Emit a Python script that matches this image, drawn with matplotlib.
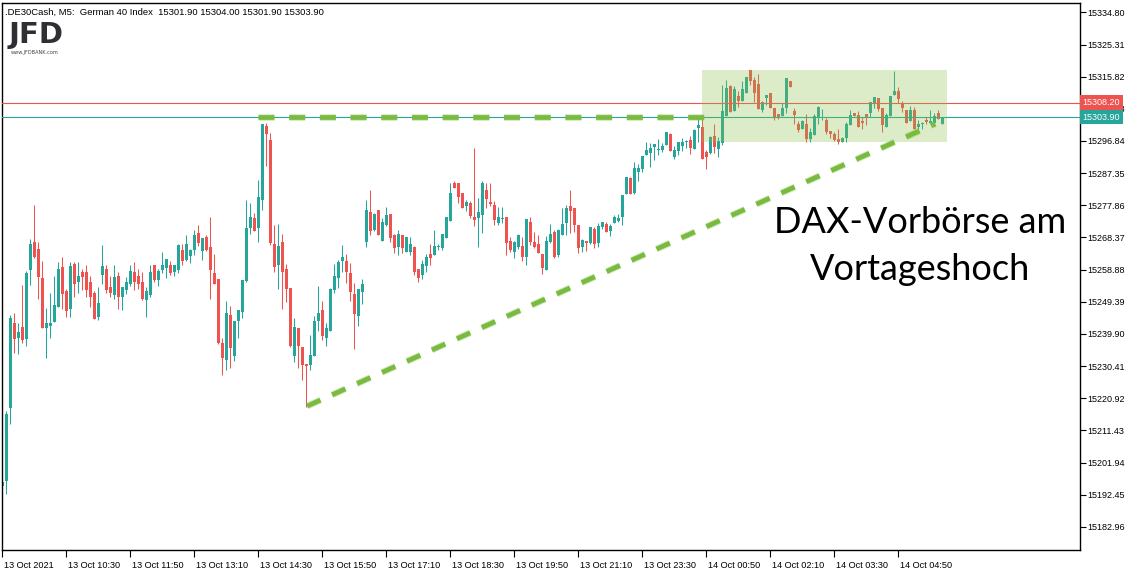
import numpy as np
import matplotlib
matplotlib.use("Agg")
import matplotlib.pyplot as plt
import matplotlib.transforms as mtransforms

opens = [15195.1, 15196.5, 15218.1, 15243.1, 15238.8, 15241.9, 15238.5, 15258.8, 15267.0, 15264.9,
         15256.4, 15241.7, 15242.2, 15243.5, 15247.9, 15259.6, 15252.5, 15247.3, 15260.5, 15255.3,
         15258.1, 15258.1, 15255.2, 15252.0, 15245.0, 15257.4, 15259.0, 15253.7, 15251.5, 15257.0,
         15250.9, 15253.0, 15254.5, 15258.2, 15257.0, 15255.2, 15250.0, 15251.4, 15260.3, 15255.9,
         15258.8, 15259.5, 15260.3, 15258.2, 15258.8, 15264.7, 15261.7, 15262.9, 15264.7, 15269.7,
         15264.4, 15268.5, 15265.6, 15257.9, 15256.1, 15237.2, 15232.2, 15245.5, 15233.4, 15243.7,
         15246.4, 15255.5, 15271.2, 15274.1, 15271.2, 15279.4, 15301.3, 15297.1, 15266.4, 15260.2,
         15267.0, 15259.1, 15253.4, 15233.4, 15241.6, 15236.0, 15231.0, 15230.7, 15233.4, 15243.7,
         15246.9, 15238.7, 15240.7, 15252.8, 15256.4, 15261.4, 15261.4, 15257.9, 15251.7, 15245.2,
         15252.3, 15267.0, 15275.9, 15270.6, 15276.5, 15267.3, 15272.1, 15275.3, 15269.1, 15265.6,
         15269.1, 15264.1, 15264.1, 15265.6, 15259.1, 15257.3, 15259.9, 15263.5, 15263.2, 15265.5,
         15265.3, 15268.2, 15273.2, 15284.4, 15284.4, 15281.5, 15277.7, 15278.5, 15274.4, 15274.1,
         15275.0, 15282.4, 15278.8, 15277.9, 15272.6, 15273.7, 15274.4, 15267.3, 15264.1, 15265.6,
         15265.9, 15262.6, 15272.9, 15267.0, 15266.4, 15263.5, 15258.8, 15267.0, 15270.0, 15263.2,
         15269.1, 15272.6, 15277.7, 15277.1, 15272.1, 15265.6, 15267.3, 15266.7, 15270.9, 15266.7,
         15271.5, 15272.3, 15270.3, 15272.6, 15273.2, 15274.4, 15281.2, 15285.9, 15281.5, 15287.7,
         15288.6, 15292.7, 15293.3, 15295.1, 15294.1, 15294.2, 15295.7, 15298.9, 15292.1, 15293.9,
         15295.4, 15296.4, 15297.1, 15294.5, 15300.7, 15301.0, 15293.6, 15293.3, 15298.3, 15294.5,
         15296.3, 15304.2, 15313.1, 15305.7, 15310.1, 15308.6, 15311.0, 15317.8, 15314.8, 15313.7,
         15306.0, 15309.5, 15311.0, 15306.6, 15304.8, 15304.2, 15306.6, 15314.6, 15305.7, 15301.9,
         15300.4, 15301.9, 15297.4, 15298.6, 15303.9, 15303.5, 15303.0, 15299.8, 15298.9, 15297.4,
         15296.5, 15297.7, 15301.6, 15305.1, 15304.5, 15302.7, 15304.8, 15305.1, 15308.1, 15309.5,
         15306.6, 15301.0, 15304.2, 15310.4, 15311.6, 15308.1, 15306.0, 15302.7, 15306.0, 15301.0,
         15301.8, 15303.0, 15302.2, 15302.2, 15305.1, 15301.9]
highs = [15196.1, 15217.1, 15245.5, 15246.0, 15243.1, 15254.3, 15258.4, 15267.9, 15277.9, 15267.0,
         15261.4, 15247.6, 15252.0, 15257.0, 15261.1, 15262.6, 15253.1, 15261.1, 15261.1, 15261.1,
         15259.0, 15260.2, 15257.0, 15252.5, 15253.7, 15266.1, 15260.2, 15257.0, 15260.2, 15258.1,
         15253.7, 15256.7, 15260.3, 15261.1, 15259.1, 15258.2, 15253.8, 15260.3, 15260.3, 15259.1,
         15264.1, 15262.0, 15261.4, 15260.3, 15266.5, 15266.5, 15269.1, 15265.0, 15270.6, 15272.1,
         15268.2, 15269.1, 15274.4, 15263.5, 15256.1, 15238.7, 15249.6, 15248.2, 15243.7, 15247.0,
         15255.8, 15279.4, 15278.5, 15275.6, 15285.3, 15301.9, 15302.2, 15299.2, 15272.0, 15272.3,
         15269.4, 15260.5, 15253.4, 15244.6, 15241.6, 15236.0, 15231.0, 15239.6, 15245.2, 15254.0,
         15249.6, 15243.1, 15253.4, 15260.5, 15261.7, 15266.1, 15263.5, 15260.8, 15254.9, 15253.1,
         15256.1, 15279.4, 15282.4, 15275.6, 15276.5, 15274.1, 15277.4, 15275.3, 15269.4, 15270.6,
         15269.1, 15268.5, 15268.5, 15265.9, 15259.1, 15261.7, 15263.5, 15266.4, 15270.6, 15266.4,
         15269.4, 15274.4, 15284.4, 15285.0, 15284.4, 15281.5, 15279.4, 15279.1, 15294.8, 15280.0,
         15285.0, 15284.4, 15284.4, 15279.1, 15277.4, 15277.4, 15274.4, 15268.5, 15267.3, 15269.4,
         15268.5, 15273.8, 15274.4, 15270.0, 15269.1, 15263.5, 15268.8, 15272.4, 15270.6, 15270.9,
         15277.1, 15277.9, 15282.4, 15277.1, 15272.1, 15267.9, 15267.3, 15271.5, 15271.5, 15272.6,
         15273.0, 15272.9, 15272.3, 15275.0, 15275.3, 15280.9, 15286.2, 15286.2, 15290.6, 15290.0,
         15292.4, 15296.5, 15296.2, 15296.0, 15297.4, 15296.2, 15299.5, 15299.2, 15295.4, 15296.5,
         15297.7, 15297.1, 15298.3, 15300.4, 15303.6, 15303.6, 15294.2, 15298.3, 15301.9, 15298.0,
         15313.4, 15314.8, 15313.4, 15313.1, 15311.6, 15314.5, 15315.7, 15317.8, 15315.7, 15316.6,
         15308.6, 15310.4, 15311.0, 15306.6, 15304.8, 15308.1, 15315.4, 15314.6, 15306.6, 15302.7,
         15303.0, 15304.8, 15300.7, 15304.8, 15307.2, 15306.3, 15303.6, 15299.8, 15299.5, 15300.4,
         15298.0, 15302.4, 15306.0, 15305.1, 15305.7, 15303.9, 15304.8, 15308.4, 15309.8, 15309.5,
         15306.6, 15305.1, 15310.1, 15317.5, 15312.8, 15308.6, 15306.0, 15307.2, 15306.9, 15303.0,
         15302.4, 15303.9, 15306.0, 15305.1, 15306.0, 15304.0]
lows = [15195.1, 15192.6, 15213.3, 15234.2, 15234.0, 15237.3, 15236.4, 15254.4, 15262.3, 15250.2,
        15241.7, 15232.9, 15238.8, 15243.5, 15247.9, 15247.3, 15245.0, 15245.0, 15250.9, 15252.0,
        15252.9, 15250.9, 15247.9, 15244.4, 15244.1, 15254.7, 15252.0, 15250.9, 15250.3, 15247.3,
        15247.0, 15251.8, 15253.9, 15253.0, 15253.3, 15249.9, 15245.0, 15250.8, 15255.3, 15253.9,
        15257.9, 15256.5, 15257.4, 15257.0, 15257.9, 15260.3, 15261.4, 15260.9, 15263.2, 15265.9,
        15261.7, 15264.4, 15250.2, 15254.7, 15236.9, 15227.8, 15229.3, 15229.9, 15231.9, 15238.7,
        15244.6, 15255.2, 15269.4, 15270.3, 15267.0, 15276.5, 15289.5, 15266.1, 15258.2, 15253.2,
        15247.2, 15249.3, 15236.0, 15231.6, 15229.8, 15226.3, 15218.3, 15229.2, 15233.4, 15240.7,
        15238.1, 15236.3, 15240.7, 15252.0, 15253.4, 15258.2, 15254.9, 15249.6, 15235.4, 15242.2,
        15248.7, 15265.6, 15269.1, 15270.3, 15269.1, 15267.3, 15271.8, 15267.0, 15263.8, 15263.2,
        15263.8, 15264.1, 15263.2, 15257.3, 15255.2, 15256.1, 15258.2, 15260.2, 15263.2, 15264.7,
        15264.7, 15268.2, 15273.2, 15283.0, 15278.5, 15277.1, 15276.2, 15274.1, 15271.8, 15265.6,
        15269.7, 15277.1, 15277.7, 15272.1, 15272.1, 15272.6, 15263.2, 15264.1, 15262.3, 15265.0,
        15261.4, 15260.2, 15266.1, 15265.3, 15263.8, 15257.6, 15258.8, 15266.7, 15262.3, 15262.6,
        15269.1, 15269.1, 15269.7, 15270.0, 15263.8, 15264.1, 15264.4, 15266.4, 15265.3, 15265.6,
        15270.9, 15270.0, 15268.8, 15272.6, 15272.9, 15272.0, 15281.2, 15281.2, 15281.2, 15285.0,
        15287.7, 15292.7, 15289.2, 15291.2, 15292.7, 15293.6, 15295.7, 15293.9, 15291.5, 15292.7,
        15293.9, 15294.8, 15293.0, 15294.5, 15296.5, 15291.5, 15288.6, 15293.0, 15293.3, 15292.1,
        15295.7, 15304.2, 15305.4, 15305.7, 15306.9, 15308.6, 15311.0, 15313.4, 15308.4, 15306.3,
        15305.4, 15307.5, 15306.6, 15303.0, 15303.3, 15304.2, 15305.1, 15312.8, 15301.9, 15299.5,
        15300.4, 15296.5, 15296.5, 15298.6, 15301.9, 15303.0, 15298.9, 15297.7, 15296.8, 15296.0,
        15296.5, 15296.5, 15301.6, 15304.2, 15301.0, 15300.4, 15301.6, 15303.9, 15306.6, 15305.7,
        15299.5, 15301.0, 15304.2, 15310.4, 15308.1, 15305.4, 15302.2, 15302.7, 15300.4, 15299.8,
        15300.4, 15301.9, 15302.2, 15302.2, 15303.3, 15301.9]
closes = [15196.1, 15216.4, 15244.7, 15238.5, 15240.4, 15238.0, 15257.9, 15266.4, 15262.6, 15256.8,
          15241.7, 15243.1, 15243.1, 15248.4, 15259.0, 15251.8, 15246.7, 15259.9, 15254.7, 15257.0,
          15256.7, 15252.9, 15250.9, 15244.4, 15248.9, 15259.9, 15252.9, 15252.0, 15256.7, 15250.9,
          15253.7, 15255.2, 15258.5, 15255.3, 15254.5, 15250.2, 15252.6, 15258.2, 15255.8, 15258.5,
          15260.3, 15262.0, 15257.9, 15260.3, 15266.2, 15261.5, 15266.5, 15264.7, 15269.1, 15266.8,
          15268.2, 15264.7, 15258.8, 15254.7, 15237.2, 15232.8, 15246.1, 15235.8, 15243.7, 15247.0,
          15255.8, 15271.2, 15274.4, 15270.3, 15280.3, 15301.9, 15298.9, 15266.7, 15259.6, 15265.8,
          15258.2, 15253.2, 15236.3, 15241.9, 15236.3, 15230.7, 15230.4, 15233.7, 15243.7, 15246.1,
          15239.3, 15241.6, 15253.1, 15257.0, 15261.1, 15262.6, 15258.2, 15252.3, 15245.8, 15253.1,
          15254.6, 15276.5, 15270.3, 15275.3, 15269.1, 15272.9, 15275.0, 15268.2, 15265.3, 15269.4,
          15265.3, 15268.5, 15266.4, 15258.2, 15256.4, 15260.5, 15262.6, 15262.3, 15265.9, 15265.6,
          15269.4, 15274.4, 15281.5, 15283.0, 15280.3, 15277.1, 15278.8, 15274.7, 15273.5, 15275.9,
          15284.4, 15279.7, 15278.3, 15273.5, 15274.4, 15273.8, 15266.7, 15264.7, 15267.0, 15269.1,
          15262.6, 15273.8, 15267.0, 15265.6, 15263.8, 15259.4, 15267.3, 15269.4, 15262.6, 15270.6,
          15272.3, 15277.1, 15276.2, 15272.1, 15265.3, 15267.6, 15266.7, 15271.5, 15266.4, 15271.8,
          15273.0, 15270.0, 15271.7, 15274.4, 15274.1, 15280.9, 15286.2, 15281.2, 15288.9, 15288.9,
          15292.4, 15294.2, 15294.8, 15296.0, 15294.2, 15295.4, 15299.5, 15293.9, 15294.2, 15296.5,
          15296.5, 15296.5, 15294.8, 15300.1, 15301.6, 15291.5, 15292.1, 15298.0, 15295.1, 15296.8,
          15305.7, 15312.5, 15305.4, 15312.2, 15308.6, 15312.2, 15315.7, 15314.5, 15311.0, 15306.3,
          15308.4, 15310.4, 15306.6, 15303.6, 15303.6, 15306.6, 15315.4, 15312.8, 15304.5, 15300.1,
          15302.7, 15297.4, 15299.5, 15304.2, 15306.9, 15303.6, 15299.5, 15298.9, 15297.1, 15296.5,
          15297.7, 15301.9, 15304.5, 15304.2, 15301.0, 15302.2, 15303.6, 15308.4, 15309.8, 15306.3,
          15301.6, 15304.5, 15310.1, 15311.6, 15309.2, 15306.6, 15302.2, 15306.0, 15300.4, 15301.9,
          15301.9, 15302.4, 15302.7, 15304.2, 15303.3, 15303.9]

time_labels = ["13 Oct 2021", "13 Oct 10:30", "13 Oct 11:50", "13 Oct 13:10", "13 Oct 14:30",
               "13 Oct 15:50", "13 Oct 17:10", "13 Oct 18:30", "13 Oct 19:50", "13 Oct 21:10",
               "13 Oct 23:30", "14 Oct 00:50", "14 Oct 02:10", "14 Oct 03:30", "14 Oct 04:50"]
price_ticks = [15182.96, 15192.45, 15201.94, 15211.43, 15220.92, 15230.41, 15239.90, 15249.39,
               15258.88, 15268.37, 15277.86, 15287.35, 15296.84, 15306.33, 15315.82, 15325.31, 15334.80]
ask_price = 15308.20
bid_price = 15303.90

# Zeichnungen des Analysten (Bar-Index / Kurs)
resist_bars = [63.9, 175.9]
resist_price = 15303.9
trend_bars = [76.2, 233.2]
trend_prices = [15218.6, 15301.9]
box_bars = [174.9, 236.1]
box_prices = [15296.4, 15317.8]

GREEN = '#26a69a'
RED = '#ef5350'
LINE_GREEN = '#78bb3e'
AXFONT = 'Liberation Sans'

o = np.array(opens); h = np.array(highs); l = np.array(lows); c = np.array(closes)
x = np.arange(len(o))
up = c >= o
cols = np.where(up, GREEN, RED)

fig = plt.figure(figsize=(11.37, 5.78), dpi=100)
ax = fig.add_axes([2/1137, 28/578, 1078/1137, 547/578])

ax.vlines(x, l, h, colors=cols, linewidth=0.75, zorder=2)
body_bot = np.minimum(o, c)
body_h = np.maximum(np.abs(c - o), 0.3)
ax.bar(x, body_h, bottom=body_bot, width=0.74, color=cols, linewidth=0, zorder=2)

# Bid/Ask Linien
ax.axhline(ask_price, color=RED, lw=0.8, zorder=3)
ax.axhline(bid_price, color=GREEN, lw=0.8, zorder=3)

# Range-Box
ax.fill_between(box_bars, box_prices[0], box_prices[1], color='#8bc34a', alpha=0.3,
                linewidth=0, zorder=4)

# gestrichelte Linien (leicht weicher Rand)
for xs, ys, dash in [(resist_bars, [resist_price, resist_price], (11.5, 10.6)),
                     (trend_bars, trend_prices, (10.5, 9.2))]:
    lw_g, lw_m = 4.8, 3.4
    ax.plot(xs, ys, color=LINE_GREEN, lw=lw_g, alpha=0.35,
            dashes=(dash[0] / lw_g, dash[1] / lw_g), dash_capstyle='butt', zorder=5)
    ax.plot(xs, ys, color=LINE_GREEN, lw=lw_m,
            dashes=(dash[0] / lw_m, dash[1] / lw_m), dash_capstyle='butt', zorder=6)

ax.set_xlim(-0.08, 269.4)
ax.set_ylim(15176.12, 15337.57)

ax.yaxis.tick_right()
ax.set_yticks(price_ticks)
ax.set_yticklabels([f'{p:.2f}' for p in price_ticks], family=AXFONT)
ax.tick_params(axis='y', direction='out', length=4, width=0.8, pad=1.5,
               labelsize=6.5, colors='black')
ax.set_xticks(x[::16][:len(time_labels)])
ax.set_xticklabels(time_labels, family=AXFONT)
ax.tick_params(axis='x', direction='out', length=5, width=0.8, pad=3, labelsize=6.6)
offset = mtransforms.ScaledTranslation(2/100, 0, fig.dpi_scale_trans)
for lab in ax.get_xticklabels():
    lab.set_ha('left')
    lab.set_transform(lab.get_transform() + offset)
for s in ax.spines.values():
    s.set_linewidth(1.0)

# Preis-Tags
tr = mtransforms.blended_transform_factory(ax.transAxes, ax.transData)
for p, col in [(ask_price, RED), (bid_price, GREEN)]:
    ax.text(1.0025, p, f'{p:.2f}', transform=tr, fontsize=6.5, color='white', family=AXFONT,
            va='center', ha='left', zorder=10,
            bbox=dict(boxstyle='square,pad=0.3', fc=col, ec='none'))

ax.text(3/1078, 1 - 5/547, '.DE30Cash, M5:  German 40 Index  15301.90 15304.00 15301.90 15303.90',
        transform=ax.transAxes, fontsize=6.8, family=AXFONT, va='top', ha='left')
ax.text(7/1078, 1 - 18/547, 'JFD', transform=ax.transAxes, fontsize=21, fontweight='bold',
        color='#2e2f33', va='top', ha='left')
ax.text(9/1078, 1 - 47/547, 'www.JFDBANK.com', transform=ax.transAxes, fontsize=3.6,
        color='#444444', va='top', ha='left')

# Kommentar rechts
ax.text(229.5, 15269.7, 'DAX-Vorbörse am', fontsize=26, family='Lato',
        ha='center', va='baseline', zorder=8)
ax.text(229.5, 15255.8, 'Vortageshoch', fontsize=26, family='Lato',
        ha='center', va='baseline', zorder=8)

fig.savefig('out.png', dpi=100)
